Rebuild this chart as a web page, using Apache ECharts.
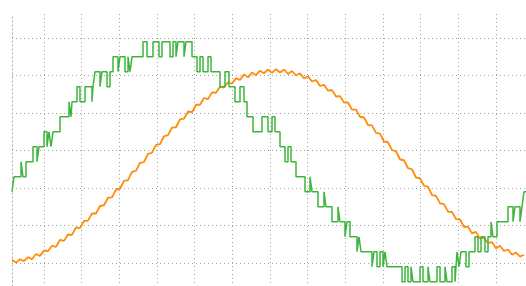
<!DOCTYPE html>
<html><head><meta charset="utf-8">
<script src="https://cdn.jsdelivr.net/npm/echarts@6.0.0/dist/echarts.min.js"></script>
<style>html,body{margin:0;padding:0;background:#fff}#c{width:526px;height:286px}</style>
</head><body><div id="c"></div>
<script>
// orange trace: one reading every 4 samples
const orangeStep = 4;
const orangeValues = [
10.9,10.1,11.0,10.5,11.6,11.0,12.4,11.9,13.3,13.2,14.6,14.3,16.2,15.9,17.6,17.5,19.5,19.3,21.2,21.3,
23.2,23.2,25.2,25.4,27.4,27.5,29.6,29.8,31.9,32.1,34.3,34.6,36.7,36.9,39.1,39.4,41.5,41.7,43.8,44.1,
46.1,46.2,48.3,48.5,50.4,50.2,52.2,52.2,54.0,53.7,55.5,55.4,57.0,56.8,58.2,57.8,59.3,58.8,60.3,59.5,
60.8,60.1,61.3,60.6,61.6,60.7,61.7,60.8,61.6,60.4,61.2,60.0,60.6,59.2,59.8,58.4,58.8,57.2,57.5,56.0,
56.1,54.4,54.5,52.8,52.8,50.9,50.9,49.0,48.8,46.8,46.7,44.7,44.5,42.4,42.2,40.1,39.8,37.6,37.4,35.3,
35.0,32.8,32.6,30.6,30.3,28.1,27.9,25.9,25.7,23.7,23.6,21.7,21.6,19.6,19.7,17.9,18.3,16.5,16.7,15.3,
15.6,13.9,14.6,13.2,13.6,12.2,12.8,11.7,12.2
];
// green quantized trace: sample times where the level changes, and the level
const greenTimes = [
0,2,9,11,14,21,25,27,32,35,37,39,41,48,57,59,60,65,68,73,80,81,83,88,90,95,98,101,106,108,113,116,118,120,
131,135,141,147,150,158,161,164,166,172,174,180,185,188,191,196,199,208,213,217,223,228,232,235,241,250,
256,260,263,268,273,276,279,284,293,298,300,306,312,314,320,326,328,333,335,338,345,347,349,360,362,365,
368,371,373,375,390,393,396,399,401,408,411,416,418,425,428,433,435,440,443,445,447,449,454,457,463,466,
469,473,476,479,481,485,496,501,503,508,510,512,514
];
const greenValues = [
29,33,37,33,37,41,37,41,45,41,45,41,45,49,53,49,53,57,53,57,53,57,61,57,61,57,61,65,61,65,61,65,61,65,
69,65,69,65,69,65,69,65,69,65,69,65,61,65,61,65,61,57,61,57,53,57,53,49,45,49,
45,49,45,41,37,41,37,33,29,33,29,25,29,25,21,25,21,17,21,17,13,17,13,9,13,9,
13,9,13,9,5,9,5,9,5,9,5,9,5,9,5,9,5,9,5,13,9,13,9,13,17,13,
17,13,17,21,17,21,25,21,25,21,25,29,29
];
// visible value window of the plot
const xMin = 0, xMax = 514;
const yMin = 3.87, yMax = 76.4;
// grid divisions (one cell = 10 value units)
const yDivMin = 1, yDivMax = 7;
const xDivCount = 12;
const gridLine = {color:'#9f9f9f', width:1, type:[1,3]};

const chart = echarts.init(document.getElementById('c'), null, {renderer:'canvas'});
chart.setOption({
  animation:false,
  backgroundColor:'#fff',
  grid:[
    {left:12, top:14, right:0, bottom:0},
    {left:44, top:14, width:452, bottom:0},
    {left:12, top:38, right:0, height:225}
  ],
  xAxis:[
    {gridIndex:0, type:'value', min:xMin, max:xMax, show:false},
    {gridIndex:1, type:'value', min:0, max:xDivCount, interval:1,
     axisLine:{show:false}, axisTick:{show:false}, axisLabel:{show:false},
     splitLine:{show:true, lineStyle:gridLine}},
    {gridIndex:2, type:'value', min:0, max:1, show:false}
  ],
  yAxis:[
    {gridIndex:0, type:'value', min:yMin, max:yMax,
     axisLine:{show:true, lineStyle:gridLine}, axisTick:{show:false}, axisLabel:{show:false},
     splitLine:{show:false}},
    {gridIndex:1, type:'value', min:0, max:1, show:false},
    {gridIndex:2, type:'value', min:yDivMin, max:yDivMax, interval:1,
     axisLine:{show:false}, axisTick:{show:false}, axisLabel:{show:false},
     splitLine:{show:true, lineStyle:gridLine}}
  ],
  series:[
    {type:'line', xAxisIndex:0, yAxisIndex:0, showSymbol:false, symbol:'none',
     data: orangeValues.map((v,i)=>[i*orangeStep, v]),
     lineStyle:{color:'#ff8c0a', width:1.8}, itemStyle:{color:'#ff8c0a'}},
    {type:'line', xAxisIndex:0, yAxisIndex:0, showSymbol:false, symbol:'none', step:'end',
     data: greenTimes.map((t,i)=>[t, greenValues[i]]),
     lineStyle:{color:'#3db53d', width:1.5}, itemStyle:{color:'#3db53d'}}
  ]
});
</script>
</body></html>
